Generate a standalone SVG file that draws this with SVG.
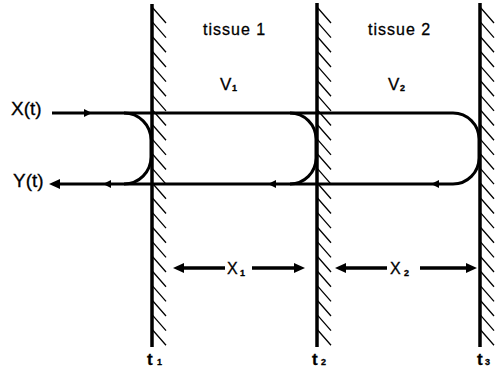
<svg xmlns="http://www.w3.org/2000/svg" width="498" height="372" viewBox="0 0 498 372">
<style>
.wall{stroke:#000;stroke-width:3.5;fill:none}
.hatch{stroke:#000;stroke-width:1.3;fill:none}
.ln{stroke:#000;stroke-width:3;fill:none}
.dim{stroke:#000;stroke-width:3.5}
text{font-family:"Liberation Sans",Arial,sans-serif;fill:#000;stroke:#000;stroke-width:0.3}
.io{font-size:19px}
.tis{font-size:16px;letter-spacing:1px}
.v{font-size:17px}
.x{font-size:16px}
.t{font-size:17px;font-weight:bold}
.sub{font-size:9px;font-weight:bold}
</style>
<defs>
<path id="hatch" class="hatch" d="M0,7 l14,16 m-14,-1.35 l14,16 m-14,-1.35 l14,16 m-14,-1.35 l14,16 m-14,-1.35 l14,16 m-14,-1.35 l14,16 m-14,-1.35 l14,16 m-14,-1.35 l14,16 m-14,-1.35 l14,16 m-14,-1.35 l14,16 m-14,-1.35 l14,16 m-14,-1.35 l14,16 m-14,-1.35 l14,16 m-14,-1.35 l14,16 m-14,-1.35 l14,16 m-14,-1.35 l14,16 m-14,-1.35 l14,16 m-14,-1.35 l14,16 m-14,-1.35 l14,16 m-14,-1.35 l14,16 m-14,-1.35 l14,16 m-14,-1.35 l14,16 m-14,-1.35 l14,16"/>
<path id="ah" d="M0,0 L-8,-4 L-8,4 Z"/>
<path id="ahb" d="M0,0 L-11,-5 L-11,5 Z"/>
</defs>

<g id="wall1">
<line class="wall" x1="152" y1="4" x2="152" y2="347"/>
<use href="#hatch" x="152"/>
<text class="t" x="147" y="365">t</text><text class="sub" x="157" y="365">1</text>
</g>
<g id="wall2">
<line class="wall" x1="317" y1="3" x2="317" y2="347"/>
<use href="#hatch" x="317"/>
<text class="t" x="312" y="365">t</text><text class="sub" x="321" y="365">2</text>
</g>
<g id="wall3">
<line class="wall" x1="480" y1="3" x2="480" y2="347"/>
<use href="#hatch" x="480"/>
<text class="t" x="477" y="365">t</text><text class="sub" x="485" y="365">3</text>
</g>

<g id="tissue1">
<text class="tis" x="203" y="35">tissue 1</text>
<text class="v" x="220" y="90">V</text><text class="sub" x="232" y="91">1</text>
</g>
<g id="tissue2">
<text class="tis" x="368" y="35">tissue 2</text>
<text class="v" x="388" y="90">V</text><text class="sub" x="400" y="91">2</text>
</g>

<g id="input">
<text class="io" x="11" y="115">X(t)</text>
</g>
<g id="output">
<text class="io" x="13" y="187">Y(t)</text>
</g>

<g id="connectors">
<path class="ln" d="M52,113 H453 A26,26 0 0 1 479,139 V158 A26,26 0 0 1 453,184 H56"/>
<path class="ln" d="M124,113 A27,27 0 0 1 151,140 V157 A27,27 0 0 1 124,184"/>
<path class="ln" d="M290,113 A26,26 0 0 1 316,139 V158 A26,26 0 0 1 290,184"/>
<use href="#ah" x="92" y="113"/>
<use href="#ah" transform="translate(103,184) rotate(180)"/>
<use href="#ah" transform="translate(268,184) rotate(180)"/>
<use href="#ah" transform="translate(431,184) rotate(180)"/>
<use href="#ahb" transform="translate(49,184) rotate(180)"/>
</g>

<g id="dim1">
<line class="dim" x1="182" y1="268" x2="225" y2="268"/>
<use href="#ahb" transform="translate(173,268) rotate(180)"/>
<text class="x" x="227" y="274">X</text><text class="sub" x="240" y="276">1</text>
<line class="dim" x1="252" y1="268" x2="296" y2="268"/>
<use href="#ahb" x="305" y="268"/>
</g>
<g id="dim2">
<line class="dim" x1="344" y1="268" x2="387" y2="268"/>
<use href="#ahb" transform="translate(335,268) rotate(180)"/>
<text class="x" x="390" y="274">X</text><text class="sub" x="404" y="276">2</text>
<line class="dim" x1="420" y1="268" x2="468" y2="268"/>
<use href="#ahb" x="477" y="268"/>
</g>
</svg>
